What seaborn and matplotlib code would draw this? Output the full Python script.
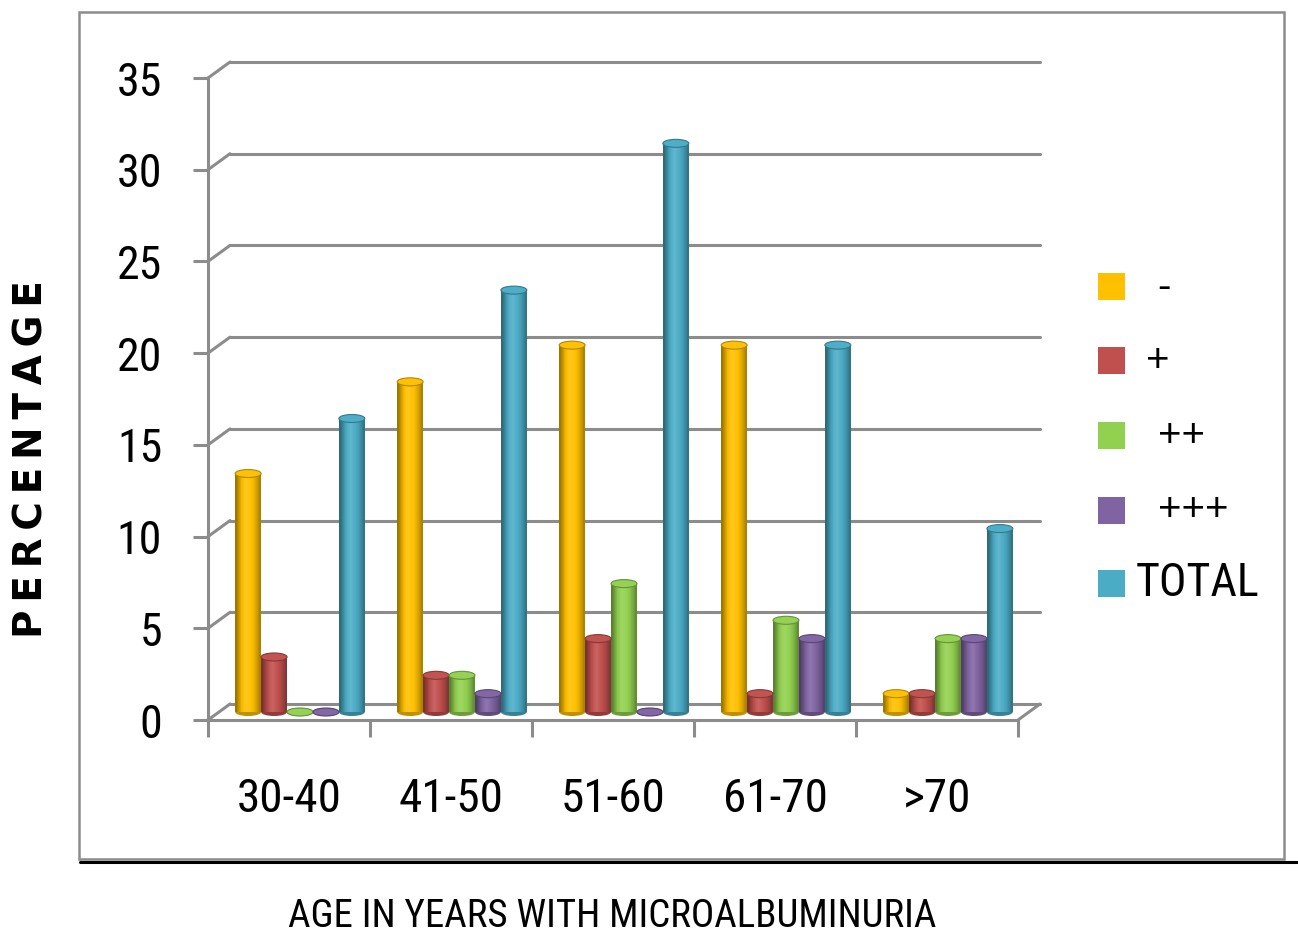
import numpy as np
import pandas as pd
import matplotlib
matplotlib.use("Agg")
import matplotlib.pyplot as plt
import seaborn as sns
from matplotlib.patches import Rectangle, Ellipse, ConnectionPatch
from matplotlib.lines import Line2D
from matplotlib.colors import to_rgb

# ---- data -------------------------------------------------------------
age_groups = ["30-40", "41-50", "51-60", "61-70", ">70"]
grades = ["-", "+", "++", "+++", "TOTAL"]
neg = [13, 18, 20, 20, 1]
plus1 = [3, 2, 4, 1, 1]
plus2 = [0, 2, 7, 5, 4]
plus3 = [0, 1, 0, 4, 4]
total = [16, 23, 31, 20, 10]
colors = ["#FFC000", "#C0504D", "#92D050", "#8064A2", "#4BACC6"]
y_ticks = [0, 5, 10, 15, 20, 25, 30, 35]

df = pd.DataFrame({
    "age": np.tile(age_groups, len(grades)),
    "grade": np.repeat(grades, len(age_groups)),
    "pct": np.concatenate([neg, plus1, plus2, plus3, total]),
})

# ---- figure setup -----------------------------------------------------
W, H = 1298, 938
sns.set_style("white")
plt.rcParams["font.family"] = ["Liberation Sans", "DejaVu Sans"]
GRID = "#8c8c8c"
COND = ["Roboto Condensed", "Liberation Sans", "DejaVu Sans"]

fig = plt.figure(figsize=(W / 100, H / 100), dpi=100)


def px_rect(left, top, right, bottom):
    return [left / W, 1 - bottom / H, (right - left) / W, (bottom - top) / H]


# pseudo-3D: back wall, bar plane and front axis plane, offset in pixels
DX, DY = 11, 8
L, R, B, T = 219, 1029, 712, 70
ax_back = fig.add_axes(px_rect(L + DX, T - DY, R + DX, B - DY))
ax = fig.add_axes(px_rect(L, T, R, B))
ax_front = fig.add_axes(px_rect(L - DX, T + DY, R - DX, B + DY))

for a in (ax_back, ax, ax_front):
    a.set_facecolor("none")

# ---- back wall gridlines ----------------------------------------------
ax_back.set_xlim(-0.5, len(age_groups) - 0.5)
ax_back.set_ylim(0, 35)
ax_back.set_xticks([])
ax_back.set_yticks(y_ticks)
ax_back.tick_params(left=False, labelleft=False, bottom=False, labelbottom=False)
ax_back.grid(axis="y", color=GRID, lw=2.2)
for gl in ax_back.get_ygridlines():
    gl.set_clip_on(False)
for s in ax_back.spines.values():
    s.set_visible(False)

# ---- bars -------------------------------------------------------------
sns.barplot(data=df, x="age", y="pct", hue="grade", hue_order=grades,
            order=age_groups, palette=colors, saturation=1, width=0.8,
            gap=0, legend=False, ax=ax, linewidth=0, edgecolor="none",
            zorder=2)
ax.set_xlim(-0.5, len(age_groups) - 0.5)
ax.set_ylim(0, 35)


def shade(c, f):
    c = np.asarray(c, dtype=float)
    if f < 1:
        return c * f
    return c + (1 - c) * (f - 1)


# cylinder look: horizontal light profile across each bar
profile = [0.62, 0.78, 0.95, 1.06, 1.12, 1.06, 1.0, 0.92, 0.82, 0.68]
ppy = (B - T) / 35.0
cap_h = 8 / ppy

for p in list(ax.patches):
    x0, w, h = p.get_x(), p.get_width(), p.get_height()
    base = np.array(to_rgb(p.get_facecolor()))
    xc = x0 + w / 2
    ax.add_patch(Ellipse((xc, 0), w, cap_h, facecolor=shade(base, 0.75),
                         edgecolor="none", zorder=1.5, clip_on=False))
    if h > 0:
        img = np.array([[np.clip(shade(base, f), 0, 1) for f in profile]])
        im = ax.imshow(img, extent=[x0, x0 + w, 0, h], aspect="auto",
                       interpolation="bilinear", zorder=2.1)
        im.set_clip_path(p)
    ax.add_patch(Ellipse((xc, h), w, cap_h, facecolor=shade(base, 1.02),
                         edgecolor=shade(base, 0.7), lw=0.8, zorder=2.2,
                         clip_on=False))

ax.set_xlim(-0.5, len(age_groups) - 0.5)
ax.set_ylim(0, 35)
ax.axis("off")

# ---- front axis and floor edge ----------------------------------------
ax_front.set_xlim(-0.5, len(age_groups) - 0.5)
ax_front.set_ylim(0, 35)
ax_front.spines[["top", "right"]].set_visible(False)
for s in ("left", "bottom"):
    ax_front.spines[s].set_color(GRID)
    ax_front.spines[s].set_linewidth(2.2)
ax_front.set_yticks(y_ticks)
ax_front.set_yticklabels([str(v) for v in y_ticks], family=COND)
ax_front.set_xticks(np.arange(len(age_groups) + 1) - 0.5)
ax_front.set_xticklabels([])
ax_front.set_xticks(range(len(age_groups)), minor=True)
ax_front.set_xticklabels(age_groups, minor=True, family=COND)
ax_front.tick_params(axis="y", left=True, length=11, width=2.2, color=GRID,
                     direction="out", pad=22, labelsize=33, labelcolor="black")
ax_front.tick_params(axis="x", which="major", bottom=True, length=12,
                     width=2.2, color=GRID, direction="out")
ax_front.tick_params(axis="x", which="minor", bottom=True, length=0, pad=41,
                     labelsize=34, labelcolor="black")

# depth edges joining front and back planes
for v in y_ticks:
    fig.add_artist(ConnectionPatch(xyA=(-0.5, v), coordsA=ax_front.transData,
                                   xyB=(-0.5, v), coordsB=ax_back.transData,
                                   color=GRID, lw=2.2))
fig.add_artist(ConnectionPatch(xyA=(len(age_groups) - 0.5, 0),
                               coordsA=ax_front.transData,
                               xyB=(len(age_groups) - 0.5, 0),
                               coordsB=ax_back.transData, color=GRID, lw=2.2))

# ---- chart frame ------------------------------------------------------
fig.add_artist(Rectangle((79 / W, 1 - 859 / H), (1284 - 79) / W,
                         (859 - 12) / H, transform=fig.transFigure,
                         fill=False, edgecolor=GRID, lw=1.8))
fig.add_artist(Line2D([80 / W, 1297 / W], [1 - 862 / H, 1 - 862 / H],
                      transform=fig.transFigure, color="black", lw=2.2))

# ---- legend -----------------------------------------------------------
leg_y = [287, 361, 436, 510, 583]
label_x = [1157, 1146, 1158, 1158, 1136]
for i, g in enumerate(grades):
    fig.add_artist(Rectangle((1098 / W, 1 - (leg_y[i] + 13.5) / H), 27 / W,
                             27 / H, transform=fig.transFigure,
                             facecolor=colors[i], edgecolor="none"))
    if g == "TOTAL":
        fig.text(label_x[i] / W, 1 - leg_y[i] / H, g, ha="left", va="center",
                 fontsize=33, family=COND, color="black")
    else:
        fig.text(label_x[i] / W, 1 - leg_y[i] / H, g, ha="left", va="center",
                 fontsize=29, color="black")

# ---- axis titles ------------------------------------------------------
fig.text(32 / W, 1 - 459 / H, "\u2009".join("PERCENTAGE"), rotation=90,
         ha="center", va="center", fontsize=28, fontweight="bold",
         family="DejaVu Sans", color="black")
fig.text(612 / W, 1 - 916 / H, "AGE IN YEARS WITH MICROALBUMINURIA",
         ha="center", va="center", fontsize=28, family=COND, color="black")

fig.savefig("out.png", dpi=100)
